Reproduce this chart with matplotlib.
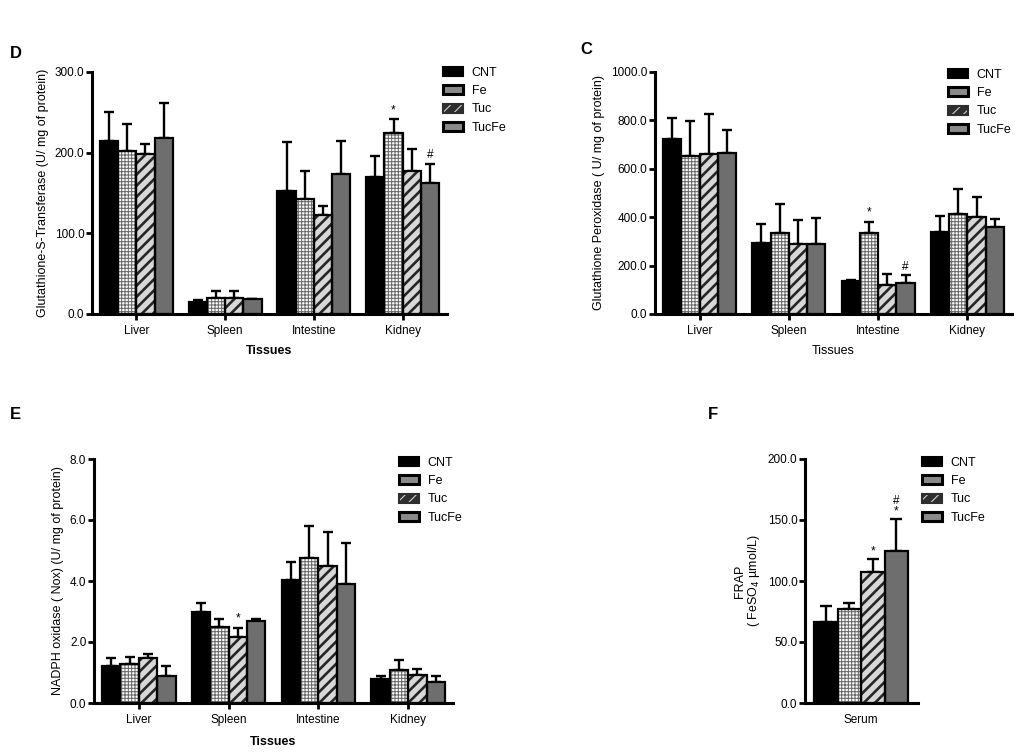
import matplotlib
matplotlib.use('Agg')
import matplotlib.pyplot as plt
from matplotlib.patches import Patch
from matplotlib.legend_handler import HandlerTuple
import numpy as np

plt.rcParams['font.family'] = ['Liberation Sans', 'DejaVu Sans']
plt.rcParams['hatch.linewidth'] = 0.8

tissues = ['Liver', 'Spleen', 'Intestine', 'Kidney']
groups = ['CNT', 'Fe', 'Tuc', 'TucFe']

# D - Glutathione-S-Transferase
gst_cnt = [214, 15, 153, 170]
gst_fe = [202, 20, 142, 224]
gst_tuc = [198, 20, 123, 177]
gst_tucfe = [218, 18, 173, 163]
gst_cnt_sd = [36, 2, 60, 26]
gst_fe_sd = [33, 8, 35, 18]
gst_tuc_sd = [13, 8, 11, 28]
gst_tucfe_sd = [44, 1, 42, 23]

# C - Glutathione Peroxidase
gpx_cnt = [724, 293, 138, 339]
gpx_fe = [654, 335, 335, 412]
gpx_tuc = [662, 289, 118, 402]
gpx_tucfe = [665, 289, 128, 358]
gpx_cnt_sd = [86, 79, 4, 67]
gpx_fe_sd = [143, 121, 47, 106]
gpx_tuc_sd = [164, 101, 47, 83]
gpx_tucfe_sd = [94, 106, 32, 36]

# E - NADPH oxidase
nox_cnt = [1.22, 2.99, 4.02, 0.80]
nox_fe = [1.29, 2.50, 4.77, 1.07]
nox_tuc = [1.49, 2.17, 4.49, 0.91]
nox_tucfe = [0.88, 2.68, 3.91, 0.68]
nox_cnt_sd = [0.27, 0.30, 0.59, 0.10]
nox_fe_sd = [0.22, 0.27, 1.04, 0.33]
nox_tuc_sd = [0.11, 0.30, 1.11, 0.21]
nox_tucfe_sd = [0.33, 0.09, 1.35, 0.22]

# F - FRAP (serum)
frap = [66, 77, 107, 125]
frap_sd = [13.5, 5, 11, 26]

# significance marks: (tissue index, group index, text)
gst_marks = [(3, 1, '*'), (3, 3, '#')]
gpx_marks = [(2, 1, '*'), (2, 3, '#')]
nox_marks = [(1, 2, '*')]
frap_marks = [(2, '*'), (3, '#\n*')]

styles = [
    dict(face='black', hatch=None, hcol='black', hlw=0.8),
    dict(face='white', hatch='+++++', hcol='#6a6a6a', hlw=0.75),
    dict(face='#d8d8d8', hatch='///', hcol='#262626', hlw=1.9),
    dict(face='#6e6e6e', hatch=None, hcol='#6e6e6e', hlw=0.8),
]
EDGE_LW = 1.6
TICK_FS = 8.5
LAB_FS = 9


def set_hlw(patches, lw):
    for p in patches:
        if hasattr(p, 'set_hatch_linewidth'):
            p.set_hatch_linewidth(lw)


def draw_bar(ax, x, h, w, st):
    with plt.rc_context({'hatch.linewidth': st['hlw']}):
        bars = ax.bar(x, h, w, color=st['face'], edgecolor=st['hcol'],
                      hatch=st['hatch'], linewidth=0, zorder=2)
    set_hlw(bars, st['hlw'])
    ax.bar(x, h, w, fill=False, edgecolor='black', linewidth=EDGE_LW, zorder=3)


def legend_handles():
    # small GraphPad-like legend swatches
    tuc = Patch(facecolor='#2e2e2e', edgecolor='#cfcfcf', hatch='///', linewidth=0)
    set_hlw([tuc], 1.0)
    return [
        (Patch(facecolor='black', edgecolor='black', linewidth=1.5),),
        (Patch(facecolor='#8a8a8a', edgecolor='black', linewidth=2.2),),
        (tuc, Patch(fill=False, edgecolor='#2e2e2e', linewidth=1.5)),
        (Patch(facecolor='#8a8a8a', edgecolor='black', linewidth=2.2),),
    ]


def style_axes(ax):
    for s in ['top', 'right']:
        ax.spines[s].set_visible(False)
    for s in ['left', 'bottom']:
        ax.spines[s].set_linewidth(2.2)
    ax.tick_params(axis='both', width=2, length=4, labelsize=TICK_FS, pad=1.5)
    ax.tick_params(axis='x', pad=4)


def tissue_panel(ax, series, sds, marks, ymax, ystep, ylabel, xlabel_bold, xlpad):
    x = np.arange(len(tissues))
    w = 0.205
    offs = (np.arange(4) - 1.5) * w
    for i in range(4):
        draw_bar(ax, x + offs[i], series[i], w, styles[i])
        ax.errorbar(x + offs[i], series[i],
                    yerr=[np.zeros(len(x)), sds[i]],
                    fmt='none', ecolor='black', elinewidth=1.7, capsize=3.5,
                    capthick=1.7, zorder=1)
    for ti, gi, txt in marks:
        top = series[gi][ti] + sds[gi][ti]
        ax.annotate(txt, (x[ti] + offs[gi], top), xytext=(0, 2),
                    textcoords='offset points', ha='center', va='bottom',
                    fontsize=8.5)
    ax.set_xlim(-0.5, 3.5)
    ax.set_ylim(0, ymax)
    ticks = np.arange(0, ymax + ystep / 2, ystep)
    ax.set_yticks(ticks)
    ax.set_yticklabels(['%.1f' % v for v in ticks])
    ax.set_xticks(x)
    ax.set_xticklabels(tissues)
    ax.set_ylabel(ylabel, fontsize=LAB_FS, labelpad=4)
    ax.set_xlabel('Tissues', fontsize=LAB_FS,
                  fontweight='bold' if xlabel_bold else 'normal', labelpad=xlpad)
    style_axes(ax)


fig = plt.figure(figsize=(10.24, 7.54), dpi=100)

W, H = 1024, 754


def axes_px(l, t, r, b):
    return fig.add_axes([l / W, 1 - b / H, (r - l) / W, (b - t) / H])


# D
axD = axes_px(92, 72, 447, 314)
tissue_panel(axD, [gst_cnt, gst_fe, gst_tuc, gst_tucfe],
             [gst_cnt_sd, gst_fe_sd, gst_tuc_sd, gst_tucfe_sd], gst_marks,
             300, 100, 'Glutathione-S-Transferase (U/ mg of protein)', True, 6)

# C
axC = axes_px(655, 72, 1012, 314)
tissue_panel(axC, [gpx_cnt, gpx_fe, gpx_tuc, gpx_tucfe],
             [gpx_cnt_sd, gpx_fe_sd, gpx_tuc_sd, gpx_tucfe_sd], gpx_marks,
             1000, 200, 'Glutathione Peroxidase ( U/ mg of protein)', False, 6)

# E
axE = axes_px(94, 459, 453, 703)
tissue_panel(axE, [nox_cnt, nox_fe, nox_tuc, nox_tucfe],
             [nox_cnt_sd, nox_fe_sd, nox_tuc_sd, nox_tucfe_sd], nox_marks,
             8, 2, 'NADPH oxidase ( Nox) (U/ mg of protein)', True, 7)

# F
axF = axes_px(805, 459, 918, 703)
xf = np.arange(4)
for i in range(4):
    draw_bar(axF, xf[i], frap[i], 1.0, styles[i])
axF.errorbar(xf, frap, yerr=[np.zeros(4), frap_sd], fmt='none', ecolor='black',
             elinewidth=1.7, capsize=4, capthick=1.7, zorder=1)
for gi, txt in frap_marks:
    axF.annotate(txt, (xf[gi], frap[gi] + frap_sd[gi]), xytext=(0, 1),
                 textcoords='offset points', ha='center', va='bottom',
                 fontsize=8.5, linespacing=0.85)
axF.set_xlim(-0.9, 3.93)
axF.set_ylim(0, 200)
fticks = np.arange(0, 201, 50)
axF.set_yticks(fticks)
axF.set_yticklabels(['%.1f' % v for v in fticks])
axF.set_xticks([1.5])
axF.set_xticklabels(['Serum'])
axF.set_ylabel('FRAP\n( FeSO$_4$ µmol/L)', fontsize=LAB_FS, labelpad=4,
               linespacing=1.0)
style_axes(axF)
axF.tick_params(axis='x', length=0, pad=8)

# legends
leg_pos = [(443, 67), (948, 69), (399, 457), (922, 457)]
for lx, ly in leg_pos:
    fig.legend(legend_handles(), groups, loc='upper left',
               bbox_to_anchor=(lx / W, 1 - ly / H), frameon=False,
               fontsize=9, handlelength=1.6, handleheight=0.72,
               handletextpad=0.7, labelspacing=0.5, borderpad=0,
               borderaxespad=0, handler_map={tuple: HandlerTuple(ndivide=1)})

# panel letters
for txt, px, py in [('D', 10, 53), ('C', 580, 50), ('E', 10, 414), ('F', 708, 414)]:
    fig.text(px / W, 1 - py / H, txt, fontsize=12, fontweight='bold',
             va='center', ha='left')

fig.savefig('out.png', dpi=100)
